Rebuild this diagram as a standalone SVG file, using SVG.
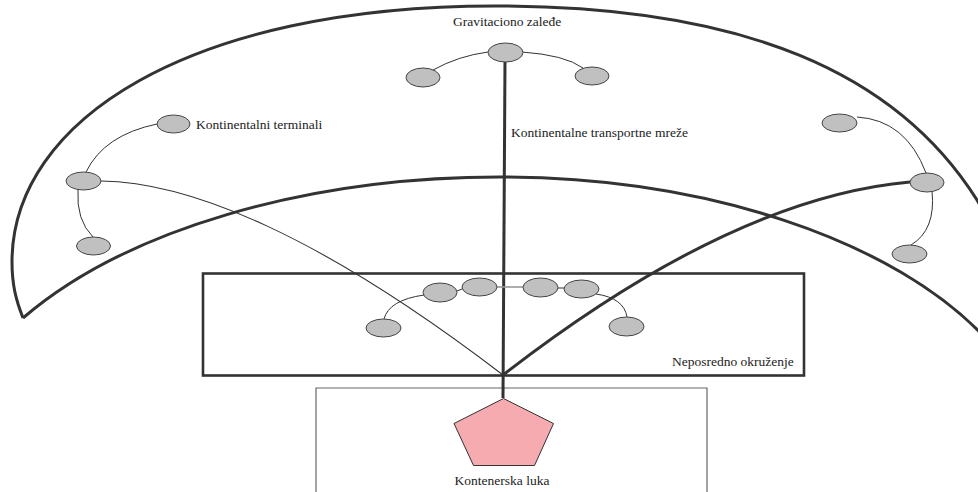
<svg xmlns="http://www.w3.org/2000/svg" width="978" height="492" viewBox="0 0 978 492">
  <style>
    .zone { fill: none; stroke: #333; stroke-width: 3; stroke-linejoin: miter; }
    .frame { fill: none; stroke: #333; stroke-width: 2.6; }
    .port-frame { fill: none; stroke: #666; stroke-width: 1.2; }
    .node { fill: #c0c0c1; stroke: #444; stroke-width: 1; }
    .link { fill: none; stroke: #333; stroke-width: 1; }
    .link-gray { fill: none; stroke: #999; stroke-width: 1.6; }
    .route { fill: none; stroke: #333; stroke-width: 3; }
    .route-thin { fill: none; stroke: #333; stroke-width: 1.1; }
    .label { font-family: "Liberation Serif", "Times New Roman", serif; font-size: 13.5px; fill: #222; }
  </style>

  <rect width="978" height="492" fill="#ffffff"/>

  <!-- hinterland zone: outer sweep and inner sweep meeting at the lower-left corner -->
  <g id="hinterland-zone">
    <path class="zone" d="M 23 318 C 16 300 12 285 12 262 C 12 120 190 6 495 6 C 745 6 897 73 977 200 L 992 226"/>
    <path class="zone" d="M 23 318 A 560 297 0 0 1 500 177 A 545 295 0 0 1 985 337.5"/>
    <text class="label" x="453" y="26">Gravitaciono zaleđe</text>
  </g>

  <!-- immediate surroundings -->
  <g id="immediate-area">
    <rect class="frame" x="203" y="273.5" width="601" height="102"/>
    <text class="label" x="672" y="366">Neposredno okruženje</text>
  </g>

  <!-- port area -->
  <g id="port-area">
    <path class="port-frame" d="M 316 495 L 316 388 L 707 388 L 707 495"/>
  </g>

  <!-- connectors -->
  <g id="connectors">
    <!-- main transport routes converging at the port -->
    <path class="route" d="M 505 60 L 503 398"/>
    <path class="route-thin" d="M 101 181 C 190 182 320 235 503 375"/>
    <path class="route" d="M 910 182 C 820 190 690 230 503 375"/>

    <!-- top cluster -->
    <path class="link" d="M 433 70 Q 458 56 488 52"/>
    <path class="link" d="M 522 52 Q 565 55 583 68"/>

    <!-- left cluster -->
    <path class="link" d="M 86 172 Q 104 135 157 124"/>
    <path class="link" d="M 78 190 Q 76 220 93 237"/>

    <!-- right cluster -->
    <path class="link" d="M 857 117 Q 906 120 926 173"/>
    <path class="link" d="M 932 191 Q 936 230 911 245"/>

    <!-- local cluster -->
    <path class="link" d="M 384 319 Q 389 300 424 295"/>
    <path class="link" d="M 457 291 L 462 289"/>
    <path class="link-gray" d="M 497 287 L 523 287"/>
    <path class="link" d="M 558 288 L 564 288"/>
    <path class="link" d="M 596 294 Q 624 298 627 317"/>
  </g>

  <!-- top cluster nodes -->
  <g id="node-top-center"><ellipse class="node" cx="505.5" cy="52.5" rx="17.5" ry="9.5"/></g>
  <g id="node-top-left"><ellipse class="node" cx="423" cy="77.5" rx="17" ry="9.5"/></g>
  <g id="node-top-right"><ellipse class="node" cx="592" cy="76" rx="17" ry="9"/></g>

  <!-- left cluster nodes -->
  <g id="node-terminal">
    <ellipse class="node" cx="173.5" cy="124" rx="16.5" ry="9"/>
    <text class="label" x="196" y="129">Kontinentalni terminali</text>
  </g>
  <g id="node-left-hub"><ellipse class="node" cx="83.5" cy="181" rx="17.5" ry="9"/></g>
  <g id="node-left-low"><ellipse class="node" cx="93.5" cy="246" rx="17" ry="9"/></g>

  <!-- right cluster nodes -->
  <g id="node-right-top"><ellipse class="node" cx="839.5" cy="123" rx="17.5" ry="9"/></g>
  <g id="node-right-hub"><ellipse class="node" cx="927" cy="182.5" rx="17" ry="9.5"/></g>
  <g id="node-right-low"><ellipse class="node" cx="909.5" cy="254" rx="17.5" ry="9"/></g>

  <!-- local cluster nodes -->
  <g id="node-local-a"><ellipse class="node" cx="383.5" cy="328" rx="17.5" ry="9"/></g>
  <g id="node-local-b"><ellipse class="node" cx="440" cy="292.5" rx="17" ry="9.5"/></g>
  <g id="node-local-c"><ellipse class="node" cx="479.5" cy="287" rx="17.5" ry="9"/></g>
  <g id="node-local-d"><ellipse class="node" cx="540.5" cy="287.5" rx="17.5" ry="9.5"/></g>
  <g id="node-local-e"><ellipse class="node" cx="581.5" cy="289" rx="17.5" ry="9"/></g>
  <g id="node-local-f"><ellipse class="node" cx="626.5" cy="326.5" rx="17.5" ry="9.5"/></g>

  <!-- route label -->
  <g id="label-routes">
    <text class="label" x="511" y="137">Kontinentalne transportne mreže</text>
  </g>

  <!-- container port -->
  <g id="node-port">
    <polygon points="503.5,398.5 553.5,423.5 534.5,465.5 473.5,465.5 454,423.5" fill="#f5abb0" stroke="#333" stroke-width="1"/>
    <text class="label" x="502" y="485" text-anchor="middle">Kontenerska luka</text>
  </g>
</svg>
